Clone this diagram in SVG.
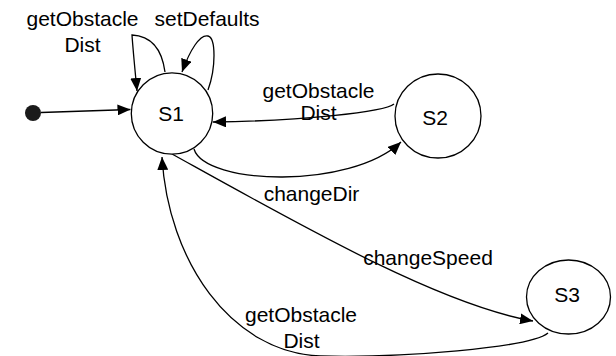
<svg xmlns="http://www.w3.org/2000/svg" width="616" height="356" viewBox="0 0 616 356">
<style>
.state{fill:#fff;stroke:#000;stroke-width:1.3}
.edge{fill:none;stroke:#000;stroke-width:1.3;marker-end:url(#arr)}
text{font-family:"Liberation Sans",Arial,sans-serif;font-size:21px;fill:#000;text-anchor:middle}
</style>
<defs>
<marker id="arr" viewBox="0 0 13 11" refX="13" refY="5.5" markerWidth="13" markerHeight="11" markerUnits="userSpaceOnUse" orient="auto">
<path d="M0,0 L13,5.5 L0,11 z" fill="#000"/>
</marker>
</defs>
<g id="connectors">
<path class="edge" d="M41,112.5 L130.5,109.5"/>
<path class="edge" d="M165,72 C162,50 152,36 132,35 C133,50 135,70 137,91"/>
<path class="edge" d="M208,90 C216,68 216,38 208,36 C200,34 190,50 182,72"/>
<path class="edge" d="M394,104 C385,112 300,121 213,122"/>
<path class="edge" d="M194,149 C205,185 350,190 401,142"/>
<path class="edge" d="M172,154 C300,225 440,305 533,321"/>
<path class="edge" d="M548,333 C530,348 400,358 320,356 C230,352 168,260 162,157"/>
</g>
<g id="start"><circle cx="33" cy="113" r="8" fill="#1a1a1a"/></g>
<g id="S1"><circle class="state" cx="172" cy="113.5" r="40.7"/><text x="171" y="121">S1</text></g>
<g id="S2"><ellipse class="state" cx="438" cy="116" rx="43" ry="42"/><text x="435" y="125">S2</text></g>
<g id="S3"><ellipse class="state" cx="568.5" cy="297" rx="42" ry="37"/><text x="567" y="301.5">S3</text></g>
<g id="labels">
<text x="82.5" y="26">getObstacle</text>
<text x="82.5" y="52">Dist</text>
<text x="207" y="26">setDefaults</text>
<text x="318.5" y="98">getObstacle</text>
<text x="318.5" y="120">Dist</text>
<text x="311.5" y="201">changeDir</text>
<text x="428" y="265">changeSpeed</text>
<text x="301" y="322">getObstacle</text>
<text x="301.5" y="348">Dist</text>
</g>
</svg>
